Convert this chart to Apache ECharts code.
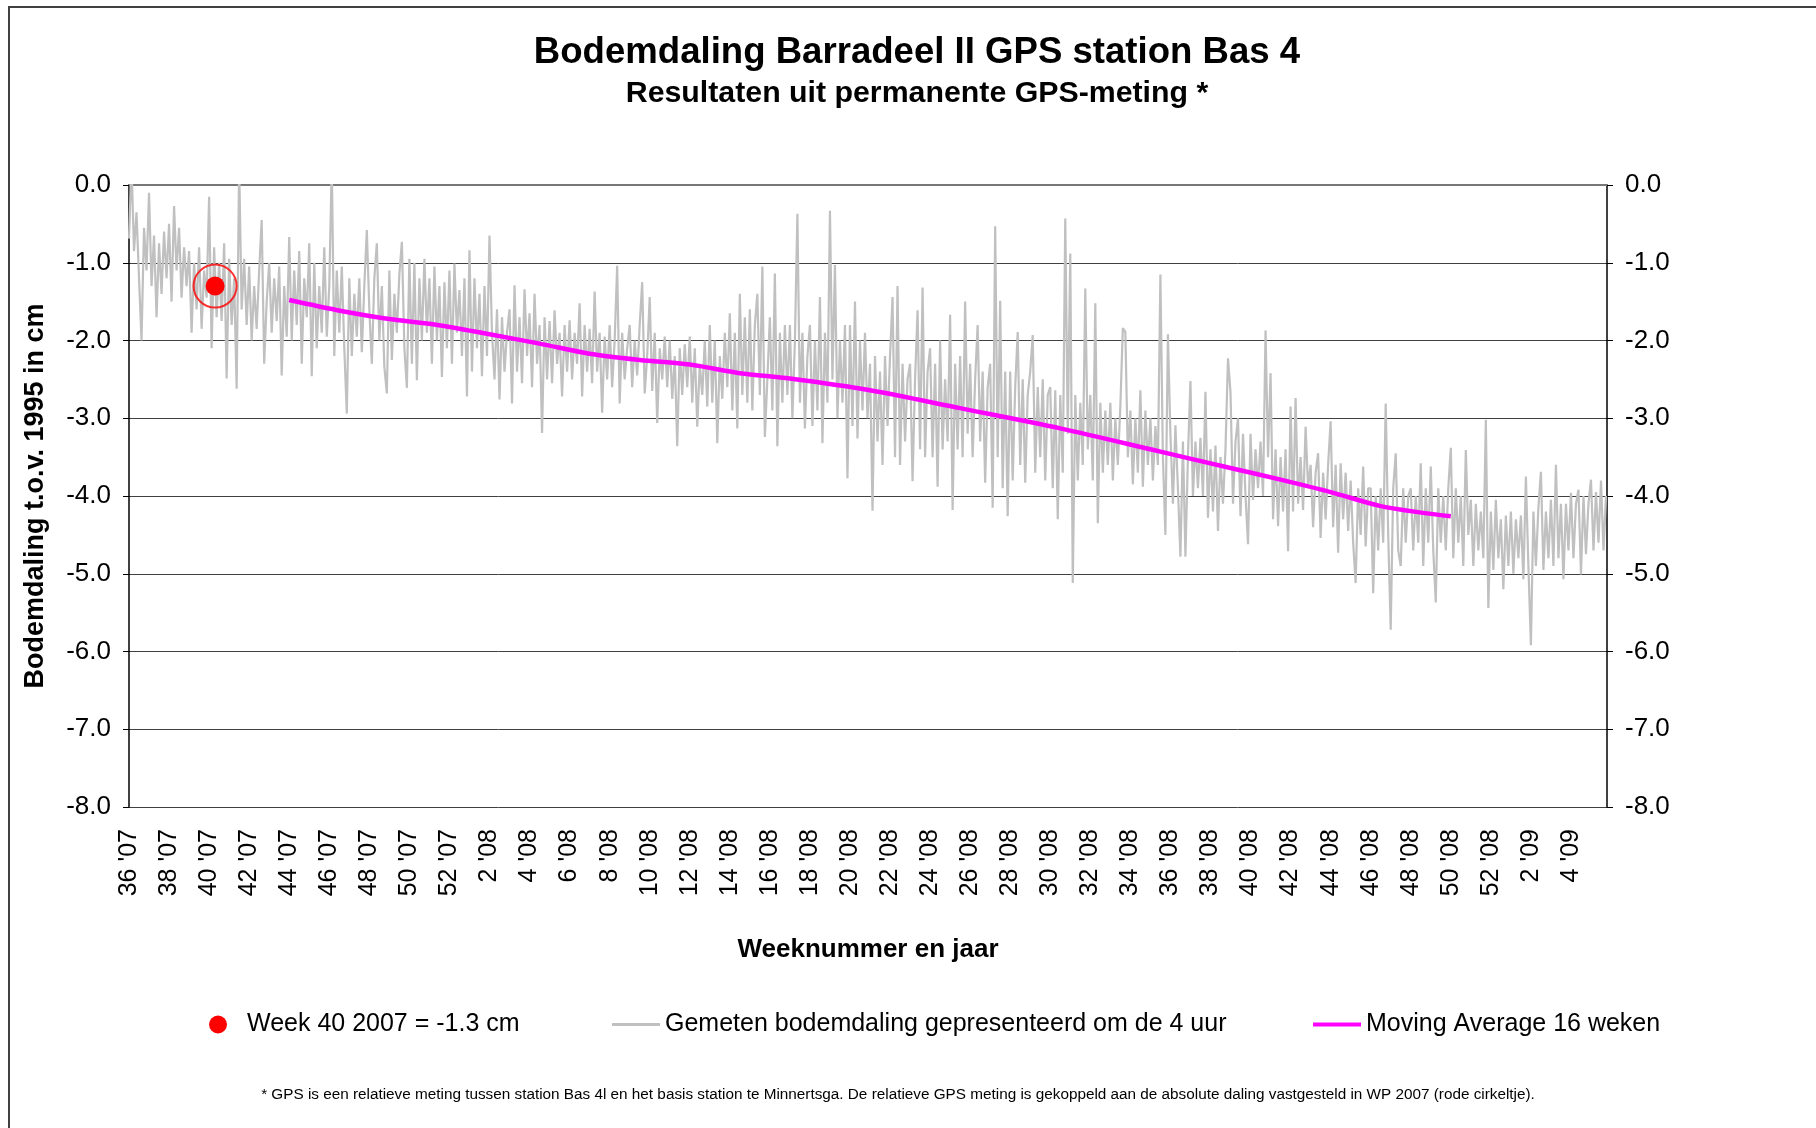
<!DOCTYPE html>
<html style="height: 100%">

<head>
    <meta charset="utf-8">
</head>

<body style="height: 100%; margin: 0; background: #fff">
    <div id="container" style="width: 1816px; height: 1128px"></div>
    <script type="text/javascript" src="https://cdn.jsdelivr.net/npm/echarts@6/dist/echarts.min.js"></script>
    <script type="text/javascript">
        // weken sinds week 36 2007, 8 metingen per week gelezen uit de grafiek
        var samplesPerWeek = 8;
        var measured = [
            -0.69, 0.27, -0.85, -0.35, -1.2, -2.0, -0.55, -1.1,
            -0.1, -1.3, -0.65, -1.7, -0.75, -1.4, -0.6, -1.2,
            -0.5, -1.5, -0.27, -1.1, -0.55, -1.45, -0.8, -1.3,
            -0.85, -1.9, -1.0, -1.6, -0.8, -1.85, -1.1, -1.45,
            -0.15, -2.1, -0.8, -1.7, -1.0, -1.75, -0.75, -2.49,
            -0.95, -1.8, -1.2, -2.62, 0.27, -1.6, -0.95, -1.8,
            -1.05, -2.0, -1.3, -1.85, -1.1, -0.45, -2.3, -1.5,
            -1.0, -1.9, -1.2, -1.75, -1.05, -2.45, -1.3, -1.95,
            -0.67, -2.0, -1.1, -1.8, -0.85, -2.3, -1.2, -1.7,
            -0.75, -2.46, -1.0, -2.1, -1.3, -1.9, -0.8, -1.95,
            -1.3, 0.27, -2.2, -1.1, -1.9, -1.05, -2.1, -2.94,
            -1.2, -2.2, -1.4, -1.95, -1.2, -2.15, -1.3, -0.58,
            -1.6, -2.3, -1.2, -0.75, -2.0, -1.3, -2.34, -2.68,
            -1.1, -2.25, -1.4, -1.9, -1.15, -0.73, -2.1, -2.61,
            -0.95, -2.3, -1.0, -2.51, -1.2, -2.0, -0.95, -1.9,
            -1.2, -2.3, -1.05, -2.0, -1.3, -2.47, -1.25, -2.1,
            -1.1, -2.3, -1.01, -1.9, -1.35, -2.2, -1.2, -2.72,
            -0.84, -2.4, -1.2, -2.1, -1.4, -2.46, -1.3, -2.2,
            -0.65, -1.9, -2.5, -1.6, -2.76, -1.7, -2.4, -1.9,
            -1.6, -2.81, -1.29, -2.4, -1.7, -2.55, -1.34, -2.2,
            -1.65, -2.6, -1.4, -2.3, -1.8, -3.19, -1.7, -2.5,
            -1.75, -2.55, -1.61, -2.3, -1.9, -2.72, -1.8, -2.4,
            -1.74, -2.5, -1.9, -2.3, -1.52, -2.72, -1.8, -2.4,
            -1.85, -2.55, -1.37, -2.4, -1.9, -2.93, -1.95, -2.5,
            -1.8, -2.6, -2.0, -1.04, -2.81, -1.9, -2.5, -2.1,
            -1.8, -2.6, -2.0, -2.45, -1.8, -1.25, -2.68, -2.2,
            -1.44, -2.65, -1.9, -3.06, -2.1, -2.5, -1.95, -2.6,
            -2.0, -2.75, -2.2, -3.36, -2.1, -2.7, -2.05, -2.6,
            -1.95, -2.8, -2.1, -3.11, -2.3, -2.7, -2.0, -2.85,
            -1.8, -2.8, -2.0, -3.32, -2.2, -2.75, -1.9, -2.6,
            -1.65, -2.9, -1.9, -3.13, -1.4, -2.7, -1.7, -2.8,
            -1.6, -2.9, -1.8, -1.4, -2.7, -1.05, -3.24, -2.5,
            -1.7, -2.9, -1.14, -3.36, -1.9, -2.8, -1.8, -2.7,
            -1.8, -3.0, -2.0, -0.37, -2.8, -1.9, -3.13, -2.2,
            -1.8, -3.1, -2.0, -2.9, -1.44, -3.32, -1.9, -2.8,
            -0.33, -2.5, -1.03, -3.0, -2.0, -2.8, -1.8, -3.77,
            -1.8, -3.1, -1.5, -3.26, -2.0, -2.9, -1.9, -3.0,
            -2.3, -4.19, -2.2, -3.3, -2.4, -3.6, -2.2, -3.1,
            -2.2, -1.44, -3.5, -1.3, -3.6, -2.3, -3.3, -2.5,
            -2.3, -3.81, -2.5, -1.61, -3.4, -1.32, -3.5, -2.4,
            -2.1, -3.5, -2.3, -3.88, -2.0, -3.4, -2.5, -3.3,
            -1.67, -4.18, -2.3, -3.4, -2.2, -3.5, -1.5, -3.2,
            -2.3, -3.5, -2.5, -1.8, -3.3, -2.4, -3.83, -2.6,
            -2.3, -4.15, -0.53, -3.5, -1.49, -3.9, -2.4, -4.26,
            -2.4, -3.8, -2.6, -1.89, -3.6, -2.5, -3.83, -2.7,
            -2.4, -1.93, -3.7, -2.6, -3.5, -2.5, -3.8, -2.7,
            -2.6, -3.9, -2.64, -4.3, -2.7, -3.7, -0.43, -3.2,
            -0.88, -5.12, -2.7, -3.8, -2.8, -3.6, -1.33, -3.4,
            -2.7, -3.8, -1.52, -4.35, -2.8, -3.7, -2.9, -3.6,
            -2.8, -3.8, -3.0, -3.6, -2.85, -1.84, -1.89, -3.5,
            -2.9, -3.85, -3.0, -3.7, -2.64, -3.88, -2.9, -3.6,
            -3.0, -3.8, -3.1, -3.6, -1.15, -3.5, -4.5, -1.92,
            -3.2, -4.1, -3.09, -3.9, -4.78, -3.3, -4.78, -3.5,
            -2.52, -4.0, -3.3, -3.9, -3.25, -4.0, -2.66, -4.28,
            -3.4, -4.2, -3.35, -4.45, -3.5, -4.1, -3.4, -2.23,
            -2.66, -4.1, -3.3, -3.0, -4.26, -3.2, -4.0, -4.62,
            -3.2, -4.05, -3.4, -3.9, -3.3, -4.0, -1.87, -3.5,
            -2.42, -4.3, -3.4, -4.39, -3.5, -4.2, -3.4, -4.71,
            -2.85, -4.2, -2.74, -4.1, -3.5, -4.18, -3.11, -3.9,
            -3.6, -4.4, -3.7, -3.45, -4.54, -3.7, -4.3, -3.6,
            -3.04, -4.4, -3.6, -4.73, -3.58, -4.3, -3.7, -4.45,
            -3.8, -4.6, -5.12, -3.9, -4.5, -3.62, -4.65, -3.9,
            -3.9, -5.25, -4.0, -4.7, -3.9, -4.6, -2.81, -4.5,
            -5.72, -3.9, -3.45, -4.7, -4.9, -3.9, -4.6, -4.0,
            -3.9, -4.7, -4.0, -4.6, -3.58, -4.9, -3.9, -4.6,
            -3.62, -4.7, -5.37, -3.9, -4.6, -4.0, -4.7, -3.9,
            -3.38, -4.8, -3.9, -4.6, -4.0, -4.9, -3.41, -4.5,
            -4.05, -4.9, -4.1, -4.7, -4.2, -4.8, -3.02, -5.44,
            -4.2, -4.95, -4.05, -4.8, -4.3, -5.2, -4.25, -4.9,
            -4.2, -5.0, -4.3, -4.8, -4.25, -5.07, -3.75, -4.9,
            -5.92, -4.2, -4.9, -4.15, -3.69, -4.95, -4.2, -4.8,
            -4.05, -4.9, -3.6, -4.8, -4.1, -5.07, -4.1, -4.7,
            -3.96, -4.8, -4.1, -3.92, -5.01, -4.0, -4.75, -4.1,
            -3.79, -4.7, -3.95, -4.6, -3.8, -4.7, -4.0
        ];

        // moving average 16 weken
        var maWeeks = [8, 10.4, 12.9, 15.4, 18, 20.5, 23, 25.5, 28, 30.5, 33, 37, 41.5, 46.5, 51.5, 55, 57.5, 60, 62.5, 64.7, 66];
        var maValues = [-1.48, -1.61, -1.72, -1.80, -1.92, -2.04, -2.17, -2.25, -2.31, -2.42, -2.49, -2.64, -2.87, -3.13, -3.43, -3.64, -3.79, -3.95, -4.13, -4.22, -4.26];

        // referentiepunt week 40 2007
        var refPoint = [4.3, -1.3];

        var firstWeek = 36;
        var weeksPerYear = 52;
        var yTicks = [0, -1, -2, -3, -4, -5, -6, -7, -8];

        var names = {
            ref: 'Week 40 2007 = -1.3 cm',
            gps: 'Gemeten bodemdaling gepresenteerd om de 4 uur',
            ma: 'Moving Average 16 weken'
        };

        function weekLabel(w) {
            var week = firstWeek + Math.round(w);
            var year = 7;
            while (week > weeksPerYear) {
                week -= weeksPerYear;
                year++;
            }
            return week + " '" + (year < 10 ? '0' : '') + year;
        }

        var gpsData = measured.map(function (v, i) {
            return [i / samplesPerWeek, v];
        });
        var maData = maWeeks.map(function (w, i) {
            return [w, maValues[i]];
        });

        var dom = document.getElementById("container");
        var myChart = echarts.init(dom, null, { renderer: 'canvas' });

        var font = 'Liberation Sans, Arial, sans-serif';
        var legendText = { fontFamily: font, fontSize: 25, color: '#000' };
        var yAxisBase = {
            type: 'value',
            min: yTicks[yTicks.length - 1],
            max: yTicks[0],
            interval: 1,
            axisLine: { show: true, lineStyle: { color: '#000', width: 1.5 } },
            axisTick: { show: true, length: 6, lineStyle: { color: '#000' } },
            axisLabel: {
                color: '#000', fontSize: 26, fontFamily: font, margin: 18,
                formatter: function (v) { return v.toFixed(1); }
            }
        };

        option = {
            backgroundColor: '#fff',
            animation: false,
            title: [
                {
                    text: 'Bodemdaling Barradeel II GPS station Bas 4',
                    left: 912, top: 29, textAlign: 'center',
                    textStyle: { fontFamily: font, fontSize: 36.6, fontWeight: 'bold', color: '#000' }
                },
                {
                    text: 'Resultaten uit permanente GPS-meting *',
                    left: 912, top: 74, textAlign: 'center',
                    textStyle: { fontFamily: font, fontSize: 30.3, fontWeight: 'bold', color: '#000' }
                },
                {
                    text: '* GPS is een relatieve meting tussen station Bas 4l en het basis station te Minnertsga. De relatieve GPS meting is gekoppeld aan de absolute daling vastgesteld in WP 2007 (rode cirkeltje).',
                    left: 893, top: 1082, textAlign: 'center',
                    textStyle: { fontFamily: font, fontSize: 15.3, fontWeight: 'normal', color: '#000' }
                }
            ],
            graphic: [{
                type: 'rect',
                shape: { x: 9, y: 7, width: 1900, height: 1200 },
                style: { fill: 'none', stroke: '#404040', lineWidth: 2 },
                silent: true
            }],
            legend: [
                {
                    data: [{ name: names.ref, icon: 'circle' }],
                    left: 204, top: 1007, itemWidth: 48, itemHeight: 18, itemGap: 0,
                    textStyle: legendText
                },
                {
                    data: [{ name: names.gps, icon: 'rect' }],
                    left: 607, top: 1007, itemWidth: 48, itemHeight: 3, itemGap: 0,
                    textStyle: legendText
                },
                {
                    data: [{ name: names.ma, icon: 'rect' }],
                    left: 1308, top: 1007, itemWidth: 48, itemHeight: 4, itemGap: 0,
                    textStyle: legendText
                }
            ],
            grid: { left: 129, right: 209, top: 185, bottom: 321, containLabel: false },
            xAxis: {
                type: 'value',
                min: 0,
                max: 73.8,
                interval: 2,
                name: 'Weeknummer en jaar',
                nameLocation: 'middle',
                nameGap: 130,
                nameTextStyle: { fontFamily: font, fontSize: 26, fontWeight: 'bold', color: '#000' },
                axisLine: { lineStyle: { color: '#777', width: 2 } },
                axisTick: { show: false },
                splitLine: { show: false },
                axisLabel: {
                    rotate: 90, fontSize: 25, fontFamily: font, color: '#000', margin: 22,
                    showMaxLabel: false,
                    formatter: weekLabel
                }
            },
            yAxis: [
                echarts.util.merge({
                    position: 'left',
                    name: 'Bodemdaling t.o.v. 1995 in cm',
                    nameLocation: 'middle',
                    nameGap: 80,
                    nameTextStyle: { fontFamily: font, fontSize: 27, fontWeight: 'bold', color: '#000' },
                    splitLine: { show: true, lineStyle: { color: '#404040', width: 1 } }
                }, yAxisBase, false),
                echarts.util.merge({
                    position: 'right',
                    splitLine: { show: false }
                }, yAxisBase, false)
            ],
            series: [
                {
                    name: names.gps,
                    type: 'line',
                    data: gpsData,
                    symbol: 'none',
                    sampling: null,
                    lineStyle: { color: '#c0c0c0', width: 2.2 },
                    itemStyle: { color: '#c0c0c0' },
                    z: 2
                },
                {
                    name: names.ma,
                    type: 'line',
                    data: maData,
                    symbol: 'none',
                    smooth: 0.3,
                    lineStyle: { color: '#ff00ff', width: 4.5 },
                    itemStyle: { color: '#ff00ff' },
                    z: 3
                },
                {
                    name: 'ring',
                    type: 'scatter',
                    data: [refPoint],
                    symbol: 'circle',
                    symbolSize: 43,
                    itemStyle: { color: 'rgba(0,0,0,0)', borderColor: '#ff0000', borderWidth: 2 },
                    z: 4
                },
                {
                    name: names.ref,
                    type: 'scatter',
                    data: [refPoint],
                    symbol: 'circle',
                    symbolSize: 19,
                    itemStyle: { color: '#ff0000', opacity: 1 },
                    z: 5
                }
            ]
        };

        if (option && typeof option === "object") {
            myChart.setOption(option, true);
        }
    </script>
</body>

</html>
